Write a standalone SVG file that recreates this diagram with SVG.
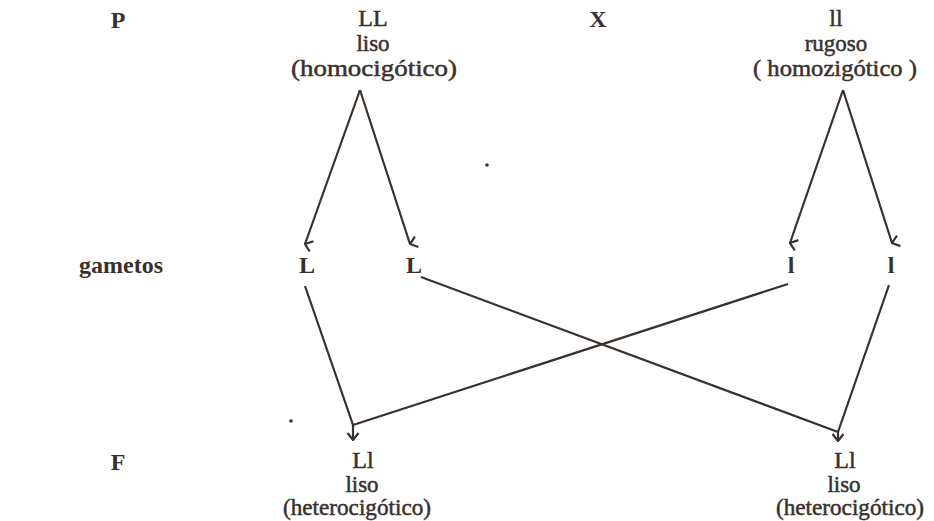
<svg xmlns="http://www.w3.org/2000/svg" width="934" height="521" viewBox="0 0 934 521">
<defs>
<marker id="ah" viewBox="0 0 14 14" refX="7" refY="13" markerWidth="14" markerHeight="14" markerUnits="userSpaceOnUse" orient="auto">
<path d="M1.5,6 L7,13 L12.5,6" fill="none" stroke="#3a302c" stroke-width="2.2"/>
</marker>
<marker id="ahd" viewBox="0 0 14 14" refX="7" refY="13" markerWidth="14" markerHeight="14" markerUnits="userSpaceOnUse" orient="0">
<path d="M1.5,6 L7,13 L12.5,6" fill="none" stroke="#3a302c" stroke-width="2.2"/>
</marker>
</defs>
<style>
text{font-family:"Liberation Serif","DejaVu Serif",serif;fill:#3a302c;stroke:#3a302c;stroke-width:0.5;text-anchor:middle}
.b{font-weight:bold;stroke-width:0}
.s{font-size:24px}
.m{font-size:23px}
.c{fill:none;stroke:#3a302c;stroke-width:2.2}
</style>
<rect width="934" height="521" fill="#ffffff"/>
<g id="labels">
<text class="s b" x="118" y="28">P</text>
<text class="s b" x="598" y="27">X</text>
<text class="s b" x="121" y="273">gametos</text>
<text class="s b" x="118" y="470">F</text>
</g>
<g id="parent-LL">
<text class="s" x="373" y="26">LL</text>
<text class="m" x="373" y="51">liso</text>
<text class="m" x="374" y="76" textLength="166" lengthAdjust="spacingAndGlyphs">(homocigótico)</text>
</g>
<g id="parent-ll">
<text class="s" x="836" y="26">ll</text>
<text class="m" x="836" y="51">rugoso</text>
<text class="m" x="835" y="76" textLength="164" lengthAdjust="spacingAndGlyphs">( homozigótico )</text>
</g>
<g id="gamete-L1"><text class="s b" x="307" y="273">L</text></g>
<g id="gamete-L2"><text class="s b" x="414" y="273">L</text></g>
<g id="gamete-l1"><text class="s b" x="791" y="273">l</text></g>
<g id="gamete-l2"><text class="s b" x="891" y="273">l</text></g>
<g id="child-1">
<text class="s" x="363" y="468">Ll</text>
<text class="m" x="362" y="492">liso</text>
<text class="m" x="357" y="515" textLength="148" lengthAdjust="spacingAndGlyphs">(heterocigótico)</text>
</g>
<g id="child-2">
<text class="s" x="845" y="468">Ll</text>
<text class="m" x="844" y="492">liso</text>
<text class="m" x="850" y="515" textLength="148" lengthAdjust="spacingAndGlyphs">(heterocigótico)</text>
</g>
<g id="connectors">
<path class="c" d="M360,90 L305,244" marker-end="url(#ah)"/>
<path class="c" d="M360,90 L410,244" marker-end="url(#ah)"/>
<path class="c" d="M843,90 L790,243" marker-end="url(#ah)"/>
<path class="c" d="M843,90 L892,243" marker-end="url(#ah)"/>
<path class="c" d="M305,286 L353,425 L353,440" marker-end="url(#ahd)"/>
<path class="c" d="M788,284 L353,425"/>
<path class="c" d="M421,277 L838,432 L838,441" marker-end="url(#ahd)"/>
<path class="c" d="M889,285 L838,432"/>
</g>
<g id="dots">
<circle cx="487" cy="165" r="1.8" fill="#3a302c"/>
<circle cx="291" cy="421" r="1.8" fill="#3a302c"/>
</g>
</svg>
